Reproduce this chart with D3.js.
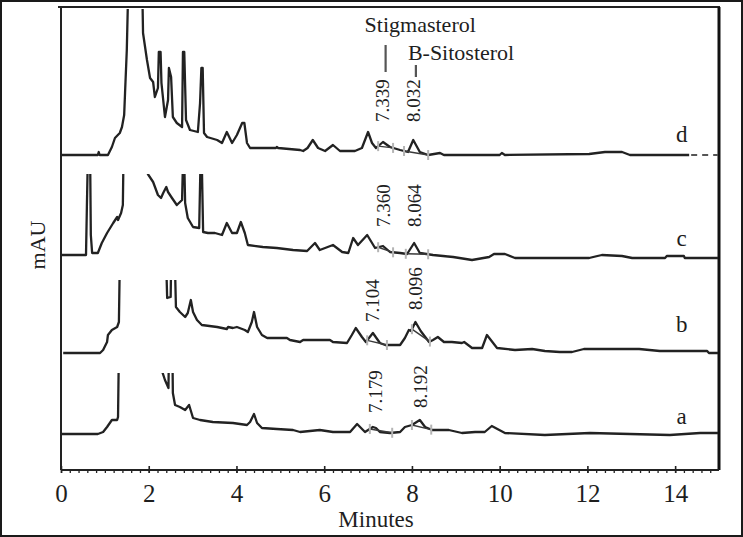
<!DOCTYPE html>
<html><head><meta charset="utf-8">
<script src="https://cdn.jsdelivr.net/npm/d3@7"></script>
<style>
body{margin:0;background:#fff}
svg{display:block}
text{font-family:"Liberation Serif","Times New Roman","DejaVu Serif",serif;fill:#1e1e1e}
</style>
</head><body>
<svg id="chart" width="743" height="537"></svg>
<script>
// ---------- DATA ----------
const traceNames = ["a", "b", "c", "d"];
const traceOffsets = [0, 81, 176, 279];      // stacking offset (mAU)
const traceCeilings = [61, 73, 84, 150];     // visible height of each panel (mAU)
const traceLabelLift = [10, 21, 12, 13];

const traceA = [[0,0],[0.84,0],[0.96,2],[1.05,7],[1.16,14],[1.28,14],[1.30,17],[1.33,120],[2.29,120],[2.31,62],[2.37,54],[2.42,49],[2.45,46],[2.47,120],[2.53,120],[2.55,41],[2.60,29],[2.71,27],[2.83,24],[2.92,29],[3.01,16],[3.17,14],[3.46,12],[3.92,11],[4.24,9],[4.31,12],[4.40,20],[4.47,11],[4.58,6],[4.92,5],[5.29,4],[5.45,2],[5.90,4],[6.20,2],[6.59,2],[6.75,10],[6.93,2],[7.11,7],[7.18,6],[7.27,2],[7.50,1],[7.73,2],[7.84,7],[8.00,9],[8.18,14],[8.30,7],[8.46,4],[8.84,4],[9.14,1],[9.44,2],[9.66,2],[9.82,8],[10.12,1],[11.03,-1],[12.06,1],[13.88,-1],[14.57,1],[15,1]];

const traceB = [[0.05,0],[0.89,0],[0.96,3],[1.05,11],[1.07,18],[1.16,23],[1.28,26],[1.32,31],[1.35,120],[2.38,120],[2.42,55],[2.50,56],[2.52,120],[2.58,120],[2.62,46],[2.71,41],[2.83,36],[2.89,40],[2.96,53],[3.01,41],[3.10,33],[3.21,28],[3.56,26],[3.78,24],[3.81,26],[3.92,25],[4.01,26],[4.19,23],[4.26,21],[4.35,31],[4.40,41],[4.47,26],[4.58,18],[4.70,15],[5.15,15],[5.22,13],[5.45,11],[5.52,13],[5.90,13],[6.13,13],[6.20,11],[6.52,10],[6.63,18],[6.72,25],[6.86,16],[6.95,11],[7.11,20],[7.27,10],[7.39,8],[7.73,8],[7.84,15],[7.93,23],[7.98,22],[8.08,31],[8.20,22],[8.39,11],[8.48,13],[8.59,16],[8.73,11],[8.91,11],[9.14,10],[9.19,11],[9.37,5],[9.60,5],[9.71,18],[9.94,5],[10.35,3],[10.74,4],[11.03,2],[11.37,1],[11.65,1],[11.92,4],[13.18,4],[13.65,2],[14.73,2],[14.77,0],[15,0]];

const traceC = [[0,3],[0.57,3],[0.59,51],[0.62,120],[0.66,120],[0.68,23],[0.71,5],[0.84,5],[0.93,15],[1.05,25],[1.19,35],[1.28,41],[1.30,38],[1.37,45],[1.41,53],[1.43,120],[1.96,120],[1.98,84],[2.10,76],[2.21,63],[2.28,60],[2.33,65],[2.40,71],[2.44,66],[2.53,60],[2.64,53],[2.76,58],[2.78,95],[2.81,95],[2.83,55],[2.89,40],[3.01,31],[3.15,30],[3.18,95],[3.21,95],[3.24,26],[3.35,25],[3.51,25],[3.67,23],[3.78,35],[3.90,25],[4.01,25],[4.10,36],[4.19,25],[4.26,13],[4.60,11],[4.92,10],[5.29,8],[5.61,7],[5.79,15],[5.90,8],[6.20,13],[6.41,6],[6.55,5],[6.66,20],[6.77,13],[6.98,23],[7.16,10],[7.34,12],[7.50,6],[7.73,5],[7.89,4],[8.05,15],[8.18,5],[8.48,3],[8.94,1],[9.37,-2],[9.76,1],[9.87,4],[10.12,4],[10.35,0],[12.04,0],[12.33,3],[12.79,2],[13.02,0],[13.77,0],[13.81,2],[14.20,2],[14.22,0],[15,0]];

const traceD = [[0,0],[0.84,0],[0.86,3],[0.88,0],[1.07,0],[1.16,8],[1.23,17],[1.34,22],[1.39,28],[1.44,40],[1.46,62],[1.50,105],[1.55,200],[1.84,200],[1.87,122],[1.96,95],[2.03,77],[2.10,73],[2.14,58],[2.21,67],[2.23,103],[2.27,103],[2.29,72],[2.37,38],[2.44,55],[2.46,87],[2.51,78],[2.55,38],[2.64,32],[2.76,28],[2.78,103],[2.81,103],[2.85,35],[2.94,25],[3.12,23],[3.17,52],[3.20,87],[3.23,87],[3.26,22],[3.33,18],[3.56,15],[3.67,12],[3.78,23],[3.90,12],[4.01,20],[4.13,32],[4.18,32],[4.24,12],[4.31,7],[4.90,7],[4.92,8],[4.95,7],[5.45,5],[5.52,4],[5.62,7],[5.74,15],[5.86,7],[6.02,4],[6.20,10],[6.36,4],[6.70,4],[6.86,7],[7.00,23],[7.09,12],[7.18,7],[7.34,13],[7.50,8],[7.73,5],[7.91,3],[8.03,15],[8.18,3],[8.37,0],[8.64,2],[8.73,0],[10.0,0],[10.05,2],[10.12,0],[12.04,1],[12.40,3],[12.79,3],[12.97,0],[14.32,0],[15,0]];

const traceDashFrom = [null, null, null, 14.32];   // trace d continues dashed

const traces = [traceA, traceB, traceC, traceD];

// integration marks (minutes) per trace
const integrationMarks = [
  [7.04, 7.55, 8.00, 8.44],
  [6.98, 7.43, 8.00, 8.41],
  [7.23, 7.57, 7.86, 8.37],
  [7.23, 7.57, 7.82, 8.37]
];

// retention-time labels per trace: [text, lift above baseline (mAU)]
const rtLabels = [
  [["7.179", 21], ["8.192", 26]],
  [["7.104", 31], ["8.096", 43]],
  [["7.360", 31], ["8.064", 31]],
  [["7.339", 33], ["8.032", 33]]
];

const compoundNames = ["Stigmasterol", "B-Sitosterol"];
const compoundTimes = [7.40, 8.09];

const xMajorTicks = [0, 2, 4, 6, 8, 10, 12, 14];
const xMinorTicks = d3.range(0, 75).map(i => i * 0.2);
const xTitle = "Minutes";
const yTitle = "mAU";

// ---------- LAYOUT ----------
const svg = d3.select("#chart");
const W = 743, H = 537;
const mLeft = 61, mRight = 719, mTop = 7, mBottom = 470;
const ink = "#222";
const serif = '"Liberation Serif","Times New Roman","DejaVu Serif",serif';

const x = d3.scaleLinear().domain([0, 15]).range([mLeft, mRight]);
const y = d3.scaleLinear().domain([-36, 427]).range([mBottom, mTop]);

// outer border
svg.append("rect").attr("x", 1).attr("y", 1).attr("width", W - 2).attr("height", H - 2)
  .attr("fill", "none").attr("stroke", "#1a1a1a").attr("stroke-width", 2);

// plot frame (top, right)
svg.append("line").attr("x1", mLeft - 3).attr("x2", mRight + 1).attr("y1", mTop).attr("y2", mTop)
  .attr("stroke", ink).attr("stroke-width", 2);
svg.append("line").attr("x1", mRight).attr("x2", mRight).attr("y1", mTop).attr("y2", mBottom)
  .attr("stroke", "#111").attr("stroke-width", 3);
// left axis line
svg.append("line").attr("x1", mLeft).attr("x2", mLeft).attr("y1", mTop).attr("y2", mBottom)
  .attr("stroke", ink).attr("stroke-width", 2);

// bottom axis: minor ticks
const minorAxis = svg.append("g").attr("transform", `translate(0,${mBottom})`)
  .call(d3.axisBottom(x).tickValues(xMinorTicks).tickSize(3).tickFormat(""));
minorAxis.select(".domain").remove();
minorAxis.selectAll("line").attr("stroke", ink).attr("stroke-width", 1.3);

const majorAxis = svg.append("g").attr("transform", `translate(0,${mBottom})`)
  .call(d3.axisBottom(x).tickValues(xMajorTicks).tickSize(3).tickPadding(11).tickFormat(d3.format("d")));
majorAxis.attr("font-family", null);
majorAxis.select(".domain").attr("stroke", ink).attr("stroke-width", 2.2).attr("d", `M${mLeft},0H${mRight}`);
majorAxis.selectAll(".tick line").attr("y1", -4).attr("stroke", ink).attr("stroke-width", 1.6);
majorAxis.selectAll(".tick text").attr("font-size", 25).attr("fill", "#1e1e1e")
  .style("font-family", serif);

// axis titles
svg.append("text").attr("x", 376).attr("y", 527).attr("text-anchor", "middle")
  .attr("font-size", 23).style("font-family", serif).text(xTitle);
svg.append("text").attr("transform", "translate(45,245) rotate(-90)").attr("text-anchor", "middle")
  .attr("font-size", 22).style("font-family", serif).text(yTitle);

// ---------- TRACES ----------
const defs = svg.append("defs");
const line = d3.line().x(d => x(d[0])).y(d => y(d[1]));

function valueAt(pts, t) {
  for (let i = 1; i < pts.length; i++) {
    if (pts[i][0] >= t) {
      const [t0, v0] = pts[i - 1], [t1, v1] = pts[i];
      return v0 + (v1 - v0) * (t - t0) / (t1 - t0);
    }
  }
  return pts[pts.length - 1][1];
}

traces.forEach((pts, i) => {
  const off = traceOffsets[i];
  const shifted = pts.map(p => [p[0], p[1] + off]);
  const clipTop = Math.max(y(off + traceCeilings[i]), mTop + 2);
  const cid = "clip-" + traceNames[i];
  defs.append("clipPath").attr("id", cid).append("rect")
    .attr("x", mLeft + 1).attr("y", clipTop).attr("width", mRight - mLeft - 2).attr("height", mBottom - clipTop);

  const g = svg.append("g").attr("clip-path", `url(#${cid})`);
  const dashFrom = traceDashFrom[i];
  const solid = dashFrom == null ? shifted : shifted.filter(p => p[0] <= dashFrom);
  g.append("path").datum(solid).attr("d", line)
    .attr("fill", "none").attr("stroke", ink).attr("stroke-width", 2.3).attr("stroke-linejoin", "round");
  if (dashFrom != null) {
    const dashed = shifted.filter(p => p[0] >= dashFrom);
    g.append("path").datum(dashed).attr("d", line).attr("fill", "none")
      .attr("stroke", "#555").attr("stroke-width", 2).attr("stroke-dasharray", "6,5")
      .attr("stroke-dashoffset", -2);
  }

  // integration marks and drop baselines
  const marks = integrationMarks[i];
  const mv = marks.map(t => valueAt(pts, t) + off);
  [[0, 1], [2, 3]].forEach(([a, b]) => {
    svg.append("line").attr("x1", x(marks[a])).attr("y1", y(mv[a]))
      .attr("x2", x(marks[b])).attr("y2", y(mv[b]))
      .attr("stroke", "#3a3a3a").attr("stroke-width", 1.4);
  });
  marks.forEach((t, k) => {
    svg.append("line").attr("x1", x(t)).attr("x2", x(t))
      .attr("y1", y(mv[k]) - 5).attr("y2", y(mv[k]) + 5)
      .attr("stroke", "#b4b4b4").attr("stroke-width", 2);
  });

  // retention time labels
  rtLabels[i].forEach(([txt, lift]) => {
    const t = +txt;
    svg.append("text")
      .attr("transform", `translate(${x(t)},${y(off + lift)}) rotate(-90)`)
      .attr("dy", "0.33em").attr("font-size", 19).style("font-family", serif).text(txt);
  });

  // trace letter
  svg.append("text").attr("x", x(14.15)).attr("y", y(off + traceLabelLift[i]))
    .attr("text-anchor", "middle").attr("font-size", 23).style("font-family", serif).text(traceNames[i]);
});

// compound annotations
svg.append("text").attr("x", x(compoundTimes[0]) - 21).attr("y", 32).attr("font-size", 22)
  .style("font-family", serif).text(compoundNames[0]);
svg.append("line").attr("x1", x(compoundTimes[0])).attr("x2", x(compoundTimes[0])).attr("y1", 45).attr("y2", 72)
  .attr("stroke", "#555").attr("stroke-width", 2.2);
svg.append("text").attr("x", x(compoundTimes[1]) - 8).attr("y", 60).attr("font-size", 22)
  .style("font-family", serif).text(compoundNames[1]);
svg.append("line").attr("x1", x(compoundTimes[1])).attr("x2", x(compoundTimes[1])).attr("y1", 65).attr("y2", 77)
  .attr("stroke", "#555").attr("stroke-width", 2.2);
</script>
</body></html>
